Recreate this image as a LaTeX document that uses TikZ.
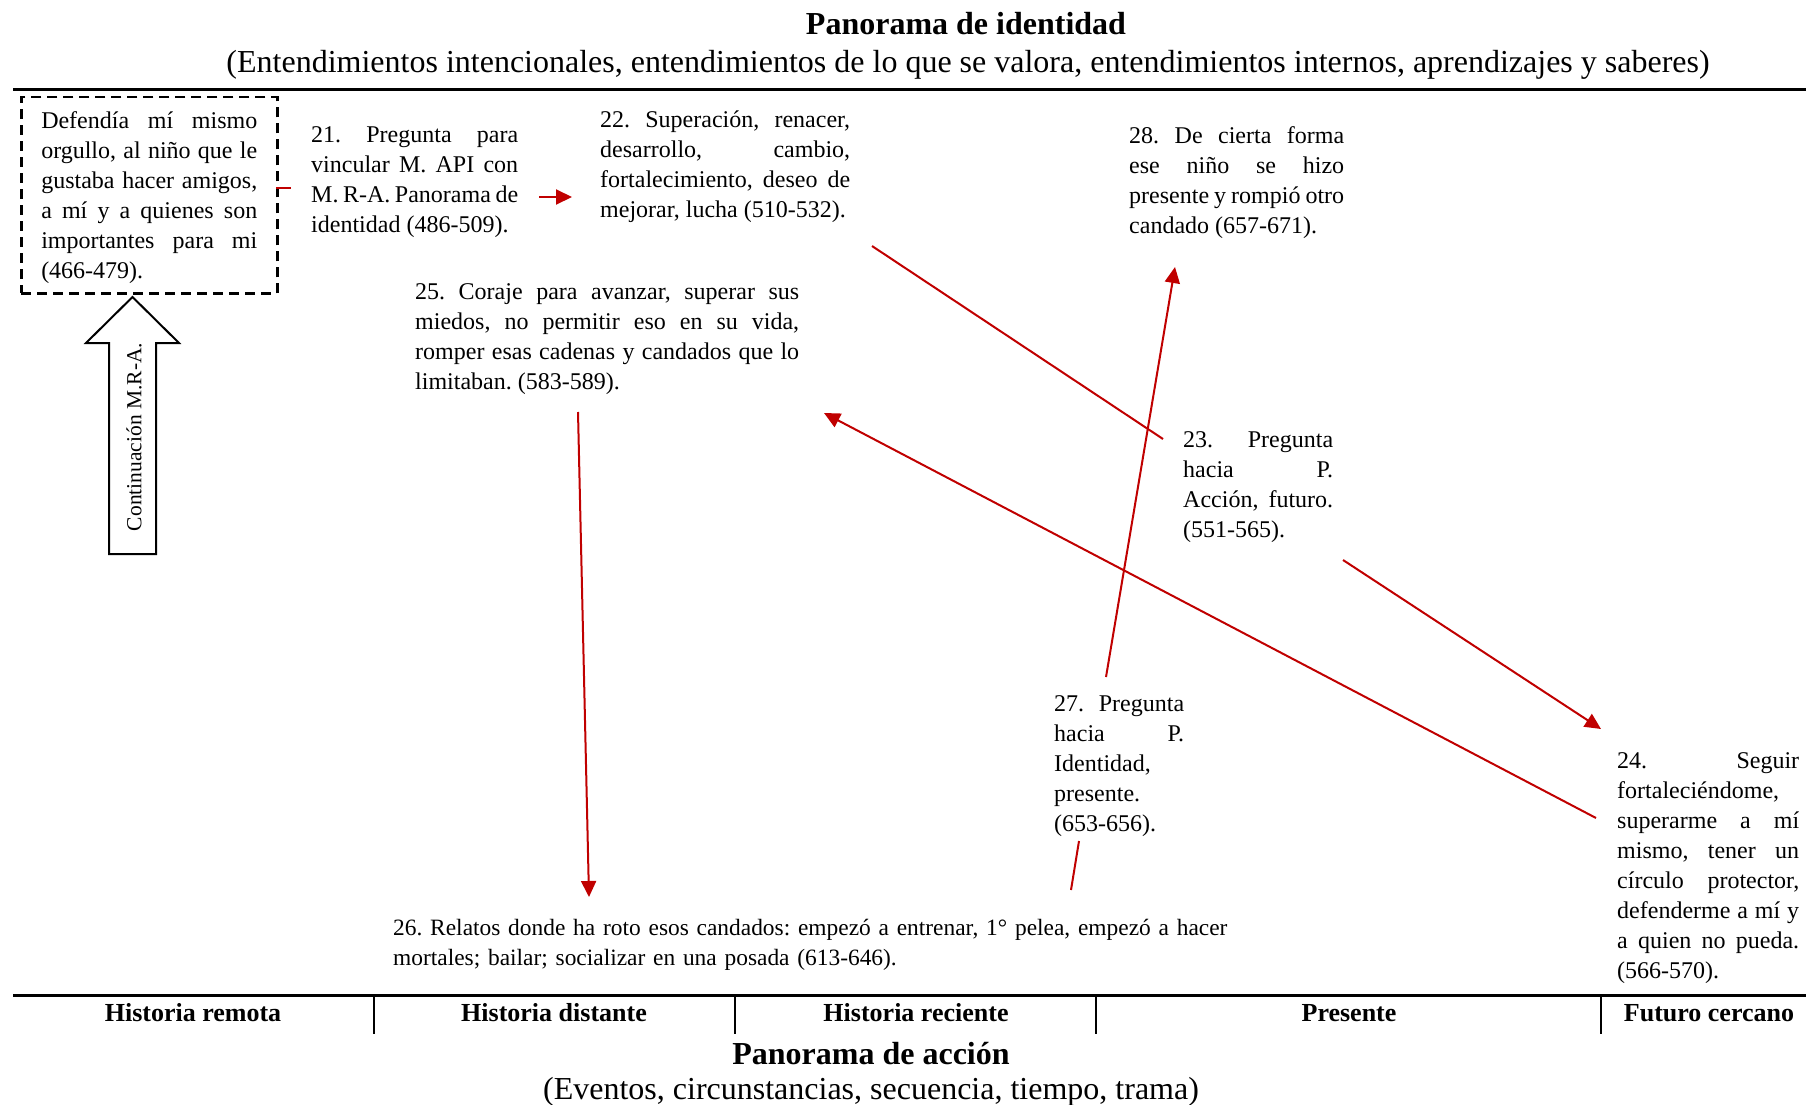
\documentclass[tikz,border=0pt]{standalone}
\usepackage{fontspec}
\setmainfont{Liberation Serif}
\usetikzlibrary{arrows.meta,calc}
\definecolor{linkred}{RGB}{192,0,0}

\tikzset{
  txt/.style={anchor=north west, inner sep=0pt, align=justify,
    font=\fontsize{24}{30}\selectfont,
    execute at begin node={\frenchspacing\hyphenpenalty=10000\exhyphenpenalty=10000}},
  dashedframe/.style={draw, line width=2.5pt, dash pattern=on 10pt off 6pt},
  link/.style={draw=linkred, line width=2pt},
  linkarrow/.style={link, -{Triangle[length=16pt,width=15pt]}},
  heading/.style={anchor=base, font=\fontsize{32}{36}\selectfont\bfseries},
  subheading/.style={anchor=base, font=\fontsize{32}{36}\selectfont},
  collabel/.style={anchor=base, font=\fontsize{26}{30}\selectfont\bfseries},
  rule/.style={line width=3pt},
  divider/.style={line width=1.2pt},
}

\begin{document}
\begin{tikzpicture}[x=1pt, y=-1pt]
  \useasboundingbox (0,0) rectangle (1806,1105);

  % ---- headings ----
  \node[heading] (idtitle) at (966,35) {Panorama de identidad};
  \node[subheading] (idsub) at (968,73) {(Entendimientos intencionales, entendimientos de lo que se valora, entendimientos internos, aprendizajes y saberes)};
  \draw[rule] (13,90) -- (1806,90);

  % ---- identity landscape texts ----
  \node[txt, dashedframe, inner xsep=20pt, inner ysep=10pt, text width=216pt] (b1) at (20,96)
    {\strut Defendía mí mismo\linebreak orgullo, al niño que le\linebreak gustaba hacer amigos,\linebreak a mí y a quienes son\linebreak importantes para mi\linebreak (466-479).};

  \node[txt, text width=207pt] (n21) at (311,121)
    {\strut 21. Pregunta para\linebreak vincular M. API con\linebreak M. R-A. Panorama de\linebreak identidad (486-509).};

  \node[txt, text width=250pt] (n22) at (600,106)
    {\strut 22. Superación, renacer,\linebreak desarrollo, cambio,\linebreak fortalecimiento, deseo de\linebreak mejorar, lucha (510-532).};

  \node[txt, text width=215pt] (n28) at (1129,122)
    {\strut 28. De cierta forma\linebreak ese niño se hizo\linebreak presente y rompió otro\linebreak candado (657-671).};

  \node[txt, text width=384pt] (n25) at (415,278)
    {\strut 25. Coraje para avanzar, superar sus\linebreak miedos, no permitir eso en su vida,\linebreak romper esas cadenas y candados que lo\linebreak limitaban. (583-589).};

  \node[txt, text width=150pt] (n23) at (1183,426)
    {\strut 23. Pregunta\linebreak hacia P.\linebreak Acción, futuro.\linebreak (551-565).};

  \node[txt, text width=130pt] (n27) at (1054,690)
    {\strut 27. Pregunta\linebreak hacia P.\linebreak Identidad,\linebreak presente.\linebreak (653-656).};

  \node[txt, text width=182pt] (n24) at (1617,747)
    {\strut 24. Seguir\linebreak fortaleciéndome,\linebreak superarme a mí\linebreak mismo, tener un\linebreak círculo protector,\linebreak defenderme a mí y\linebreak a quien no pueda.\linebreak (566-570).};

  \node[txt, align=left, text width=900pt, font=\fontsize{23.4}{30}\selectfont] (n26) at (393,914)
    {\strut 26. Relatos donde ha roto esos candados: empezó a entrenar, 1° pelea, empezó a hacer\\ mortales; bailar; socializar en una posada (613-646).};

  % ---- block arrow: continuation ----
  \draw[line width=2pt, fill=white] (132.5,297) -- (179,343) -- (156,343) -- (156,554)
    -- (109,554) -- (109,343) -- (86,343) -- cycle;
  \node[rotate=90, inner sep=0pt, font=\fontsize{21.5}{24}\selectfont] (cont) at (134,437) {Continuación M.R-A.};

  % ---- connector end points ----
  \coordinate (b1out)  at (276,188);
  \coordinate (n21in)  at (291,188);
  \coordinate (n21out) at (539,197);
  \coordinate (n22in)  at (572,197);
  \coordinate (n22out) at (872,246);
  \coordinate (n23in)  at (1163,439);
  \coordinate (n23out) at (1343,560);
  \coordinate (n24in)  at (1601,729);
  \coordinate (n24out) at (1596,818);
  \coordinate (n25in)  at (824,413);
  \coordinate (n25out) at (578,412);
  \coordinate (n26in)  at (589,897);
  \coordinate (n26out) at (1071,890);
  \coordinate (n27in)  at (1079,841);
  \coordinate (n27out) at (1106,677);
  \coordinate (n28in)  at (1175,267);

  % ---- connectors ----
  \draw[link] (b1out) -- (n21in);
  \draw[linkarrow] (n21out) -- (n22in);
  \draw[link] (n22out) -- (n23in);
  \draw[linkarrow] (n23out) -- (n24in);
  \draw[linkarrow] (n24out) -- (n25in);
  \draw[linkarrow] (n25out) -- (n26in);
  \draw[link] (n26out) -- (n27in);
  \draw[linkarrow] (n27out) -- (n28in);

  % ---- action landscape timeline ----
  \draw[rule] (13,995) -- (1806,995);
  \draw[divider] (374,995) -- (374,1034);
  \draw[divider] (735,995) -- (735,1034);
  \draw[divider] (1096,995) -- (1096,1034);
  \draw[divider] (1601,995) -- (1601,1034);

  \node[collabel] (c1) at (193,1021) {Historia remota};
  \node[collabel] (c2) at (554,1021) {Historia distante};
  \node[collabel] (c3) at (916,1021) {Historia reciente};
  \node[collabel] (c4) at (1349,1021) {Presente};
  \node[collabel] (c5) at (1709,1021) {Futuro cercano};

  \node[heading] (actitle) at (871,1064) {Panorama de acción};
  \node[subheading] (acsub) at (871,1099) {(Eventos, circunstancias, secuencia, tiempo, trama)};
\end{tikzpicture}
\end{document}
